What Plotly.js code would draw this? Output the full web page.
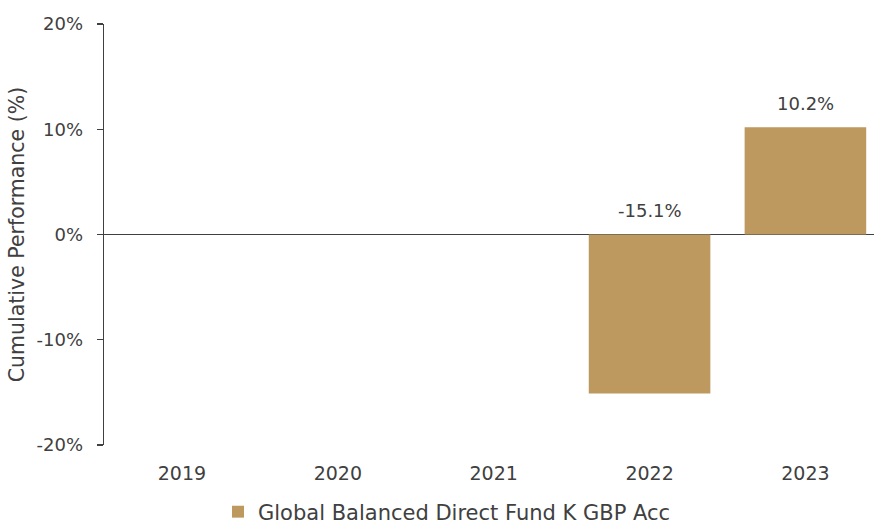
<!DOCTYPE html>
<html>
<head>
<meta charset="utf-8">
<script src="https://cdn.plot.ly/plotly-3.0.1.min.js"></script>
<style>html,body{margin:0;padding:0;background:#fff;overflow:hidden}</style>
</head>
<body>
<div id="chart" style="width:874px;height:524px"></div>
<script>
const years = ['2019', '2020', '2021', '2022', '2023'];
const values = [null, null, null, -15.1, 10.2];
const seriesName = 'Global Balanced Direct Fund K GBP Acc';
const yTickVals = [-20, -10, 0, 10, 20];
const yTickText = ['-20%', '-10%', '0%', '10%', '20%'];

const FONT = 'DejaVu Sans, sans-serif';
const TXT = '#404040';
const BAR = '#BD9960';

const annotations = [];
for (let i = 0; i < years.length; i++) {
  const v = values[i];
  if (v === null || v === undefined) continue;
  annotations.push({
    x: i, y: Math.max(v, 0), xref: 'x', yref: 'y',
    text: v.toFixed(1) + '%', showarrow: false,
    xanchor: 'center', yanchor: 'middle', yshift: 24,
    font: {family: FONT, size: 18, color: TXT}
  });
}

const data = [{
  type: 'bar', x: years, y: values, name: seriesName,
  marker: {color: BAR}, showlegend: true, hoverinfo: 'skip'
}];

const layout = {
  width: 874, height: 524,
  margin: {l: 104, r: 0, t: 24, b: 79},
  paper_bgcolor: '#fff', plot_bgcolor: '#fff',
  bargap: 0.22,
  font: {family: FONT, color: TXT, size: 18},
  xaxis: {
    type: 'category', range: [-0.5, 4.44],
    showline: false, showgrid: false, zeroline: false,
    ticks: 'outside', ticklen: 11, tickcolor: 'rgba(0,0,0,0)',
    tickfont: {family: FONT, size: 19, color: TXT}
  },
  yaxis: {
    range: [-20, 20], tickvals: yTickVals, ticktext: yTickText,
    showline: true, linecolor: TXT, linewidth: 1.3,
    ticks: 'outside', ticklen: 6, tickcolor: TXT, tickwidth: 1.3,
    showgrid: false, zeroline: true, zerolinecolor: TXT, zerolinewidth: 1.3,
    tickfont: {family: FONT, size: 18, color: TXT},
    ticklabelstandoff: 10,
    title: {text: 'Cumulative Performance (%)', font: {family: FONT, size: 20.5, color: TXT}, standoff: 6}
  },
  legend: {
    orientation: 'h', xref: 'container', yref: 'container',
    x: 218 / 874, xanchor: 'left', y: 12 / 524, yanchor: 'middle',
    font: {family: FONT, size: 21, color: TXT}, itemwidth: 30
  },
  annotations: annotations
};

Plotly.newPlot('chart', data, layout, {displayModeBar: false, staticPlot: true});
</script>
</body>
</html>
